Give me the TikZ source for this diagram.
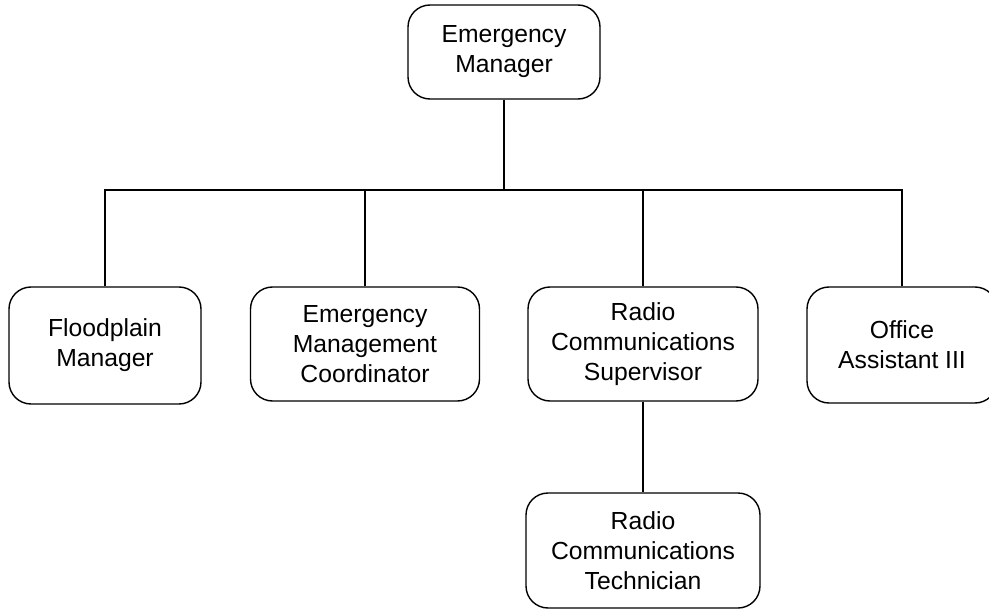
\documentclass[tikz,border=0pt]{standalone}
\usepackage{fontspec}
\setmainfont{Liberation Sans}
\begin{document}
\begin{tikzpicture}[x=1pt,y=-1pt,
  role/.style={draw, line width=1.4pt, rounded corners=22pt, align=center,
    inner sep=0pt, font=\fontsize{24.7}{30}\selectfont},
  link/.style={line width=1.4pt}]
\useasboundingbox (0,0) rectangle (989,610);
% boxes
\node[role, minimum width=192pt, minimum height=94pt]  (top) at (504,52)    {Emergency\\Manager};
\node[role, minimum width=192pt, minimum height=117pt] (fp)  at (105,345.5) {Floodplain\\Manager};
\node[role, minimum width=229pt, minimum height=114pt] (emc) at (365,344)   {Emergency\\Management\\Coordinator};
\node[role, minimum width=230pt, minimum height=114pt] (rcs) at (643,344)   {Radio\\Communications\\Supervisor};
\node[role, minimum width=190pt, minimum height=116pt] (oa)  at (902,345)   {Office\\Assistant III};
\node[role, minimum width=234pt, minimum height=115pt] (rct) at (643,550.5) {Radio\\Communications\\Technician};
% connectors
\coordinate (bus) at (504,190);
\draw[link] (top.south) -- (bus);
\draw[link] (fp.north) -- (fp.north |- bus) -- (oa.north |- bus) -- (oa.north);
\draw[link] (emc.north) -- (emc.north |- bus);
\draw[link] (rcs.north) -- (rcs.north |- bus);
\draw[link] (rcs.south) -- (rct.north);
\end{tikzpicture}
\end{document}
